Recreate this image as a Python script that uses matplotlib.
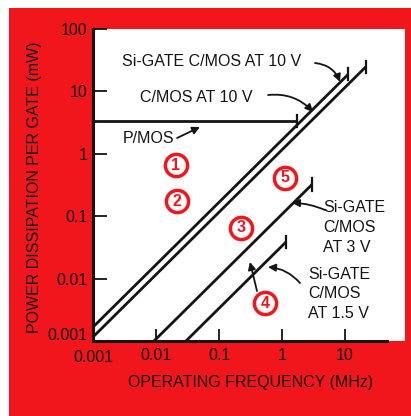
import numpy as np
import matplotlib
matplotlib.use("Agg")
import matplotlib.pyplot as plt
from matplotlib.patches import Rectangle

# power dissipation per gate (mW) vs operating frequency (MHz)
cmos10_f = [0.001, 11.2]
cmos10_p = [0.00167, 18.7]
sigate10_f = [0.001, 21.5]
sigate10_p = [0.00116, 24.9]
sigate3_f = [0.0093, 2.99]
sigate3_p = [0.001, 0.322]
sigate15_f = [0.0299, 1.16]
sigate15_p = [0.001, 0.0387]
pmos_f = [0.001, 1.73]
pmos_p = [3.36, 3.36]

region_labels = ["1", "2", "3", "4", "5"]
region_f = [0.0207, 0.0216, 0.223, 0.537, 1.12]
region_p = [0.66, 0.175, 0.065, 0.00406, 0.41]

x_ticks = [0.01, 0.1, 1, 10]
x_ticklabels = ["0.01", "0.1", "1", "10"]
y_ticks = [0.01, 0.1, 1, 10, 100]
y_ticklabels = ["0.01", "0.1", "1", "10", "100"]

RED = "#f0161c"
INK = "#141414"
plt.rcParams["font.family"] = ["Liberation Sans", "DejaVu Sans"]

W, H = 411, 416
fig = plt.figure(figsize=(W / 100, H / 100), dpi=100, facecolor="white")
fig.patches.append(Rectangle((9 / W, 0), 1 - 9 / W, 1 - 8 / H, transform=fig.transFigure,
                             facecolor=RED, edgecolor="none", zorder=-3))
fig.patches.append(Rectangle((93 / W, 75 / H), (405 - 93) / W, (341 - 29) / H,
                             transform=fig.transFigure, facecolor="white", edgecolor="none", zorder=-2))

ax = fig.add_axes([93 / W, 75 / H, 294 / W, 312 / H])
ax.patch.set_alpha(0)
ax.set_xscale("log")
ax.set_yscale("log")
ax.set_xlim(0.001, 46.4)
ax.set_ylim(0.001, 100)

for s in ["top", "right"]:
    ax.spines[s].set_visible(False)
for s in ["left", "bottom"]:
    ax.spines[s].set_linewidth(2.2)
    ax.spines[s].set_color(INK)

ax.set_xticks(x_ticks)
ax.set_xticklabels(x_ticklabels)
ax.set_yticks(y_ticks)
ax.set_yticklabels(y_ticklabels)
ax.minorticks_off()
ax.tick_params(axis="x", direction="in", length=9, width=1.3, pad=5, labelsize=11.5, colors=INK)
ax.tick_params(axis="y", direction="in", length=10, width=1.3, pad=4, labelsize=11.5, colors=INK)

fig.text(93 / W, 1 - 358 / H, "0.001", ha="center", va="center", fontsize=11.5, color=INK)
fig.text(87 / W, 1 - 336 / H, "0.001", ha="right", va="center", fontsize=11.5, color=INK)

lw = 2.0
cap = 1.25
for f, p in [(cmos10_f, cmos10_p), (sigate10_f, sigate10_p), (sigate3_f, sigate3_p),
             (sigate15_f, sigate15_p), (pmos_f, pmos_p)]:
    ax.plot(f, p, color=INK, lw=lw, solid_capstyle="butt", clip_on=False)
    ax.plot([f[-1], f[-1]], [p[-1] / cap, p[-1] * cap], color=INK, lw=1.6, clip_on=False)

# circled region numbers
ax.plot(region_f, region_p, "o", ms=16, mfc="white", mec=RED, mew=2.5, ls="none", zorder=5)
for lab, f, p in zip(region_labels, region_f, region_p):
    ax.text(f, p, lab, ha="center", va="center", color=RED, fontsize=11.5, fontweight="bold", zorder=6)

txt = dict(fontsize=11.5, color=INK, va="center", ha="left")
arr = dict(arrowstyle="-|>", color=INK, lw=1.3, mutation_scale=11, shrinkA=0, shrinkB=0)

ax.text(0.00288, 29.6, "Si-GATE C/MOS AT 10 V", **txt)
ax.annotate("", xy=(8.34, 14.2), xytext=(3.34, 28.5),
            arrowprops=dict(arr, connectionstyle="arc3,rad=-0.3"))
ax.text(0.00557, 8.13, "C/MOS AT 10 V", **txt)
ax.annotate("", xy=(3.10, 4.68), xytext=(0.600, 8.75),
            arrowprops=dict(arr, connectionstyle="arc3,rad=-0.25"))
ax.text(0.00299, 1.79, "P/MOS", **txt)
ax.annotate("", xy=(0.0499, 2.69), xytext=(0.0216, 1.79), arrowprops=arr)

for lab, p in zip(["Si-GATE", "C/MOS", "AT 3 V"], [0.1390, 0.0664, 0.0317]):
    ax.text(4.48, p, lab, **txt)
ax.annotate("", xy=(1.44, 0.163), xytext=(4.82, 0.1256),
            arrowprops=dict(arr, connectionstyle="arc3,rad=0.1"))

for lab, p in zip(["Si-GATE", "C/MOS", "AT 1.5 V"], [0.01163, 0.00577, 0.00274]):
    ax.text(2.59, p, lab, **txt)
ax.annotate("", xy=(0.600, 0.01535), xytext=(1.93, 0.0085),
            arrowprops=dict(arr, connectionstyle="arc3,rad=0.2"))
ax.annotate("", xy=(0.310, 0.01845), xytext=(0.401, 0.00632), arrowprops=arr)

fig.text(251 / W, 1 - 382 / H, "OPERATING FREQUENCY (MHz)", ha="center", va="center",
         fontsize=11.5, color=INK)
fig.text(35 / W, 1 - 187 / H, "POWER DISSIPATION PER GATE (mW)", ha="center", va="center",
         rotation=90, fontsize=11.5, color=INK)

fig.savefig("out.png", dpi=100, facecolor=fig.get_facecolor())
